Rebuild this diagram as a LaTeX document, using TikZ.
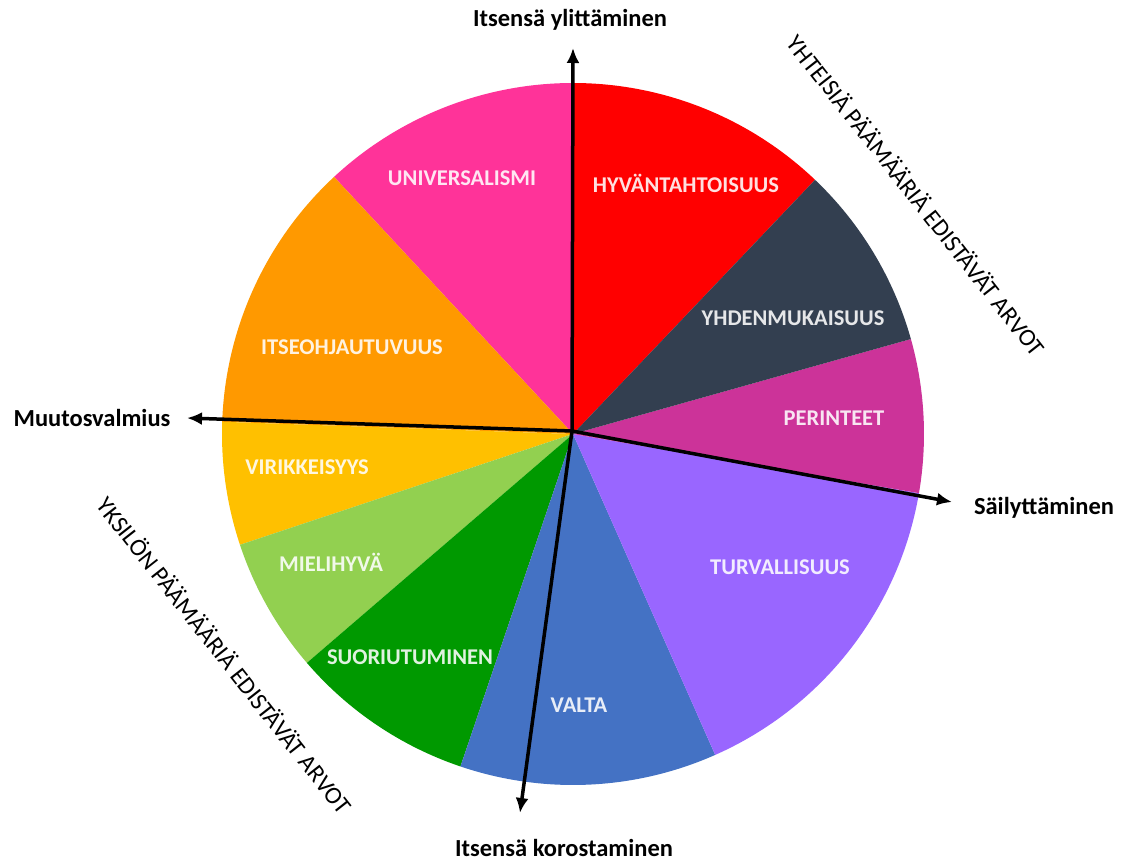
\documentclass[tikz,border=0pt]{standalone}
\usepackage{fontspec}
\setmainfont{Carlito}
\usetikzlibrary{arrows.meta}
\definecolor{cHyv}{HTML}{FF0000}
\definecolor{cUni}{HTML}{FF3399}
\definecolor{cIts}{HTML}{FF9900}
\definecolor{cVir}{HTML}{FFC000}
\definecolor{cMie}{HTML}{92D050}
\definecolor{cSuo}{HTML}{009900}
\definecolor{cVal}{HTML}{4472C4}
\definecolor{cTur}{HTML}{9966FF}
\definecolor{cPer}{HTML}{CC3399}
\definecolor{cYhd}{HTML}{333F50}
\begin{document}
\begin{tikzpicture}[x=1pt,y=-1pt,
  seclabel/.style={text=white,text opacity=0.88,font=\fontsize{22.5}{22.5}\selectfont\bfseries,inner sep=0pt},
  axislabel/.style={text=black,font=\fontsize{24.5}{24.5}\selectfont\bfseries,inner sep=0pt},
  diaglabel/.style={text=black,font=\fontsize{24.5}{24.5}\selectfont,inner sep=0pt,rotate=-51.8},
  axisarrow/.style={line width=3.5pt,-{Latex[length=15pt,width=13pt]}}]
\useasboundingbox (0,0) rectangle (1128,861);
\fill[white] (0,0) rectangle (1128,861);
\coordinate (C) at (573,434);
\foreach \a/\b/\c in {46.4/90/cHyv, 90/132.9/cUni, 132.9/178/cIts, 178/198.4/cVir, 198.4/220.7/cMie, 220.7/251.3/cSuo, 251.3/293.9/cVal, 293.9/350.3/cTur, -9.7/15.7/cPer, 15.7/46.4/cYhd}
  \fill[\c] (C) -- ++(-\a:351) arc[start angle=-\a, end angle=-\b, radius=351] -- cycle;
\node[seclabel] (uni) at (462,178) {UNIVERSALISMI};
\node[seclabel] (hyv) at (686,183) {HYVÄNTAHTOISUUS};
\node[seclabel] (yhd) at (793,318) {YHDENMUKAISUUS};
\node[seclabel] (per) at (834,418) {PERINTEET};
\node[seclabel] (tur) at (780,567) {TURVALLISUUS};
\node[seclabel] (val) at (579,705) {VALTA};
\node[seclabel] (suo) at (410,657) {SUORIUTUMINEN};
\node[seclabel] (mie) at (331,562) {MIELIHYVÄ};
\node[seclabel] (vir) at (307,467) {VIRIKKEISYYS};
\node[seclabel] (its) at (352,347) {ITSEOHJAUTUVUUS};
\coordinate (O) at (572,431);
\coordinate (tU) at (573,48);
\coordinate (tD) at (520,813);
\coordinate (tL) at (187,418);
\coordinate (tR) at (952,502);
\draw[axisarrow] (O) -- (tU);
\draw[axisarrow] (O) -- (tD);
\draw[axisarrow] (O) -- (tL);
\draw[axisarrow] (O) -- (tR);
\node[axislabel] (lU) at (570,20) {Itsensä ylittäminen};
\node[axislabel] (lD) at (564,848) {Itsensä korostaminen};
\node[axislabel] (lL) at (92,418) {Muutosvalmius};
\node[axislabel] (lR) at (1044,508) {Säilyttäminen};
\node[diaglabel] (dT) at (917,195) {YHTEISIÄ PÄÄMÄÄRIÄ EDISTÄVÄT ARVOT};
\node[diaglabel] (dB) at (225,655) {YKSILÖN PÄÄMÄÄRIÄ EDISTÄVÄT ARVOT};
\end{tikzpicture}
\end{document}
